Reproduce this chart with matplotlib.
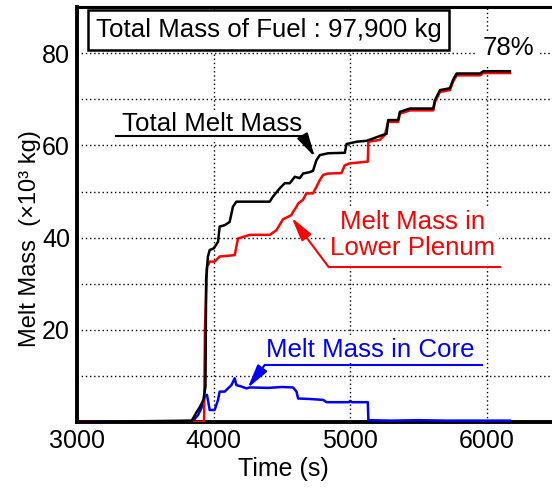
import matplotlib
matplotlib.use("Agg")
import matplotlib.pyplot as plt

plt.rcParams['font.family'] = ['Liberation Sans', 'DejaVu Sans']

# Total melt mass (black)
total_t = [3000, 3840, 3870, 3900, 3925, 3940, 3945, 3958, 3971, 4002, 4032, 4044,
           4081, 4117, 4141, 4166, 4410, 4434, 4484, 4520, 4557, 4594, 4630, 4654,
           4703, 4727, 4752, 4777, 4838, 4960, 4972, 5045, 5119, 5167, 5240, 5265,
           5277, 5350, 5363, 5436, 5607, 5619, 5656, 5729, 5753, 5778, 5949, 5973, 6168]
total_v = [0, 0.3, 1.9, 3.3, 4.8, 7.7, 31.0, 35.9, 37.3, 37.7, 39.1, 42.4,
           42.7, 43.4, 46.7, 47.8, 47.8, 48.9, 50.7, 51.8, 51.8, 53.2, 52.9, 53.9,
           54.2, 54.5, 56.8, 57.9, 58.3, 58.4, 60.3, 60.8, 61.0, 61.5, 62.3, 62.5,
           65.5, 65.5, 67.3, 68.0, 68.0, 69.8, 72.0, 72.4, 74.3, 75.6, 75.6, 76.1, 76.1]

# Melt mass in lower plenum (red)
plenum_t = [3000, 3930, 3936, 3951, 3966, 3971, 4007, 4044, 4154, 4166, 4178, 4264,
            4410, 4459, 4508, 4544, 4569, 4581, 4606, 4618, 4654, 4678, 4727, 4752,
            4777, 4801, 4838, 4935, 4960, 4996, 5128, 5132, 5216, 5253, 5277, 5350,
            5363, 5436, 5607, 5619, 5656, 5729, 5753, 5778, 5949, 5973, 6168]
plenum_v = [0, 0, 20.0, 33.7, 34.4, 34.8, 34.8, 35.9, 36.2, 38.0, 39.8, 40.6,
            40.6, 41.6, 44.0, 44.5, 44.9, 45.6, 46.7, 47.4, 48.2, 49.6, 49.6, 51.0,
            52.5, 53.6, 53.9, 54.0, 55.7, 56.1, 56.5, 60.8, 61.2, 62.3, 65.1, 65.1,
            66.9, 67.6, 67.6, 69.4, 71.6, 72.0, 73.9, 75.2, 75.2, 75.7, 75.7]

# Melt mass in core (blue)
core_t = [3000, 3848, 3885, 3910, 3934, 3951, 3971, 4007, 4032, 4044, 4081, 4105,
          4130, 4154, 4166, 4203, 4240, 4264, 4400, 4500, 4581, 4606, 4618, 4700,
          4801, 4826, 4990, 5000, 5010, 5128, 5132, 5300, 5500, 5700, 6168]
core_v = [0, 0.2, 1.5, 3.0, 5.5, 5.9, 2.6, 2.6, 4.8, 6.6, 6.6, 7.3,
          8.0, 9.5, 8.0, 7.7, 7.3, 7.5, 7.4, 7.6, 7.5, 6.6, 5.1, 5.0,
          4.8, 4.3, 4.3, 4.6, 4.3, 4.3, 0.4, 0.3, 0.4, 0.3, 0.3]

fig = plt.figure(figsize=(5.52, 4.91), dpi=100)
ax = fig.add_axes([0.1395, 0.1405, 1.006 - 0.1395, 0.9855 - 0.1405])

ax.plot(core_t, core_v, color='#0000ff', lw=1.8, zorder=3)
ax.plot(plenum_t, plenum_v, color='#ff0000', lw=1.8, zorder=4)
ax.plot(total_t, total_v, color='black', lw=1.8, zorder=5)

ax.set_xlim(3000, 6500)
ax.set_ylim(0, 90)
ax.set_xticks([3000, 4000, 5000, 6000])
ax.set_yticks([20, 40, 60, 80])
ax.set_yticks([10, 30, 50, 70], minor=True)
ax.tick_params(which='both', length=0, labelsize=18, pad=5)
ax.grid(True, which='both', color='black', linestyle=(0, (1, 2)), lw=1)
ax.set_axisbelow(True)

for s in ['left', 'bottom']:
    ax.spines[s].set_linewidth(2.8)
ax.spines['top'].set_linewidth(2.2)
ax.spines['right'].set_visible(False)

ax.set_xlabel('Time (s)', fontsize=18)
ax.set_ylabel('Melt Mass  (×10³ kg)', fontsize=17)
ax.xaxis.set_label_coords(0.431, -0.085)
ax.yaxis.set_label_coords(-0.076, 0.443)

fs = 18.6

# top box
ax.text(4403, 85.0, 'Total Mass of Fuel : 97,900 kg', fontsize=fs, ha='center', va='center',
        bbox=dict(boxstyle='square,pad=0.3', fc='white', ec='black', lw=1.8), zorder=6)
ax.text(6154, 81.1, '78%', fontsize=fs, ha='center', va='center',
        bbox=dict(boxstyle='square,pad=0.2', fc='white', ec='none'), zorder=6)

arrow = dict(arrowstyle='-|>,head_length=0.8,head_width=0.2', lw=1.5,
             mutation_scale=18, shrinkA=0, shrinkB=0)

# Total Melt Mass label
ax.text(3326, 64.6, 'Total Melt Mass', fontsize=fs, ha='left', va='center', color='black',
        bbox=dict(boxstyle='square,pad=0.1', fc='white', ec='none'), zorder=6)
ax.plot([3289, 4652], [62.0, 62.0], color='black', lw=1.5, zorder=7)
ax.annotate('', xy=(4740, 57.5), xytext=(4652, 62.0),
            arrowprops=dict(arrow, color='black'), zorder=7)

# Lower plenum label
ax.text(5452, 40.6, 'Melt Mass in\nLower Plenum', fontsize=fs, ha='center', va='center',
        color='#ff0000', linespacing=1.1,
        bbox=dict(boxstyle='square,pad=0.15', fc='white', ec='none'), zorder=6)
ax.plot([4842, 6095], [33.6, 33.6], color='#ff0000', lw=1.5, zorder=7)
ax.annotate('', xy=(4571, 44.3), xytext=(4842, 33.6),
            arrowprops=dict(arrow, color='#ff0000'), zorder=7)

# Core label
ax.text(5143, 15.6, 'Melt Mass in Core', fontsize=fs, ha='center', va='center',
        color='#0000ff', bbox=dict(boxstyle='square,pad=0.05', fc='white', ec='none'), zorder=6)
ax.plot([4374, 5963], [12.4, 12.4], color='#0000ff', lw=1.5, zorder=7)
ax.annotate('', xy=(4249, 7.4), xytext=(4374, 12.4),
            arrowprops=dict(arrow, color='#0000ff'), zorder=7)

fig.savefig('out.png', dpi=100)
